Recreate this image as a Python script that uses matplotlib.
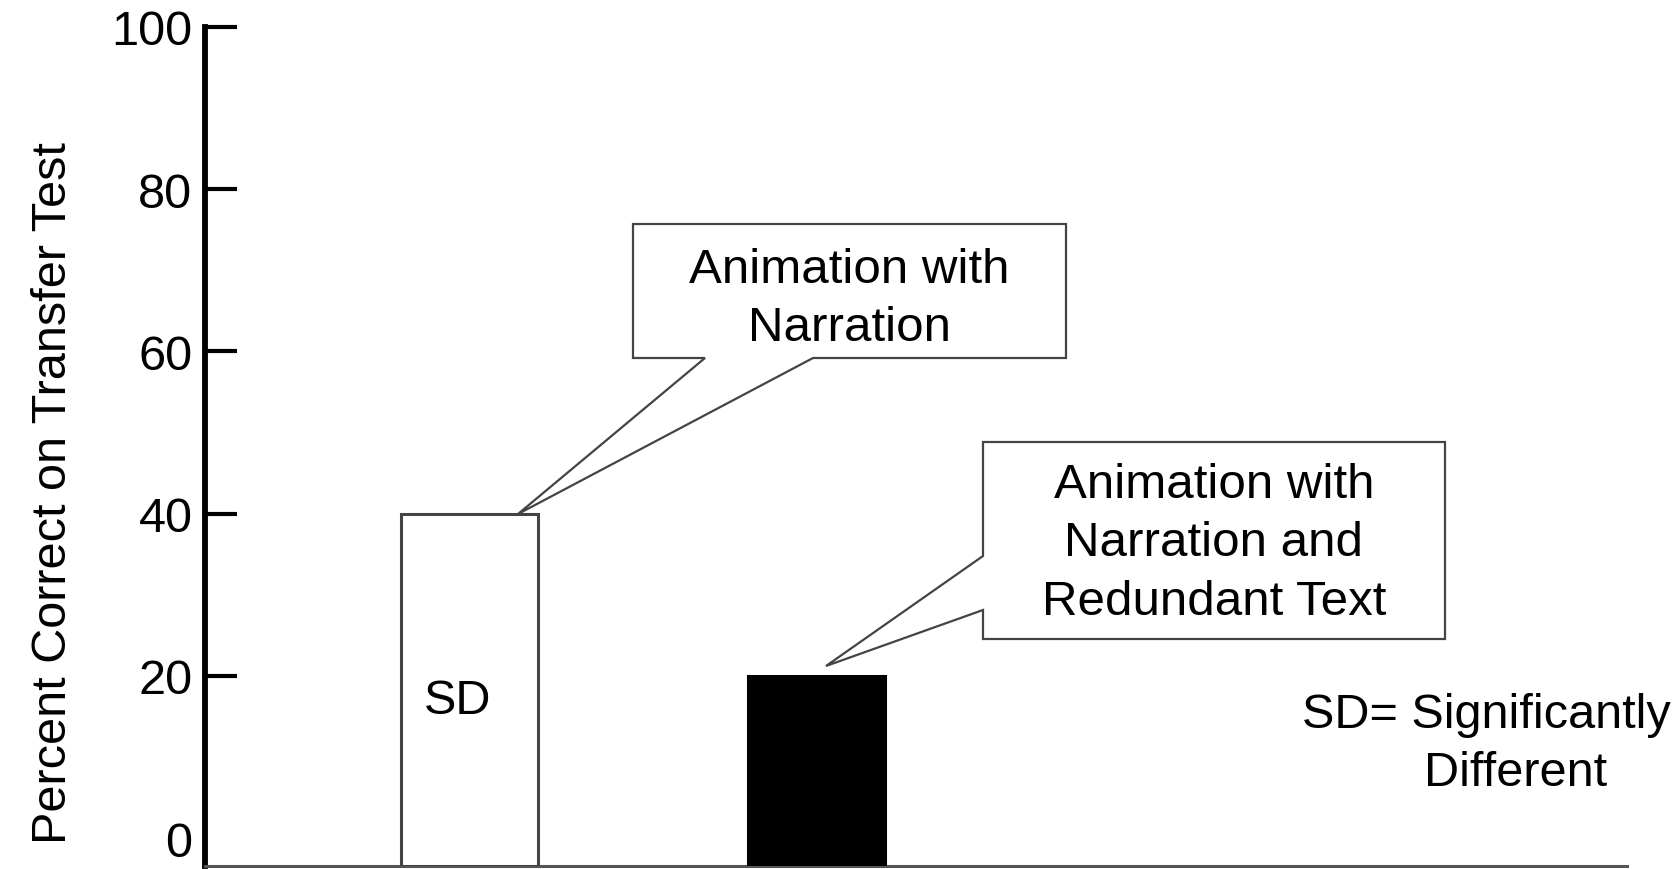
import matplotlib
matplotlib.use("Agg")
import matplotlib.pyplot as plt
from matplotlib.patches import Polygon

plt.rcParams['font.family'] = ['Liberation Sans', 'DejaVu Sans']

# ---- data ----
conditions = ["Animation with\nNarration", "Animation with\nNarration and\nRedundant Text"]
scores = [40, 20]
bar_colors = ["white", "black"]
edge_colors = ["#444444", "black"]
y_ticks = [0, 20, 40, 60, 80, 100]
y_label = "Percent Correct on Transfer Test"
sd_mark = "SD"
sd_note_1 = "SD= Significantly"
sd_note_2 = "Different"

W, H = 1681, 870
fig = plt.figure(figsize=(W / 100, H / 100), dpi=100)

# axes placement (pixels -> fractions)
ax_left, ax_right, ax_top, ax_bottom = 205, 1627, 28, 867
ax = fig.add_axes([ax_left / W, 1 - ax_bottom / H,
                   (ax_right - ax_left) / W, (ax_bottom - ax_top) / H])

Y_MIN, Y_MAX = -3.45, 100
ax.set_ylim(Y_MIN, Y_MAX)
ax.set_xlim(-0.761, 3.337)

xs = list(range(len(scores)))
ax.bar(xs, [s - Y_MIN for s in scores], bottom=Y_MIN, width=0.395,
       color=bar_colors, edgecolor=edge_colors, linewidth=2.2, zorder=3)

# spines / ticks
for s in ("top", "right"):
    ax.spines[s].set_visible(False)
ax.spines["left"].set_linewidth(4.2)
ax.spines["left"].set_color("black")
ax.spines["left"].set_bounds(Y_MIN, Y_MAX)
ax.spines["bottom"].set_linewidth(2.2)
ax.spines["bottom"].set_color("#555555")
ax.set_xticks([])
ax.set_yticks(y_ticks)
ax.set_yticklabels([str(t) for t in y_ticks])
ax.tick_params(axis="y", direction="in", length=23, width=3, pad=9,
               labelsize=35, color="black")
# hide the 0 tick mark (covered by x axis in reference)
ax.yaxis.get_major_ticks()[0].tick1line.set_visible(False)

# y label
fig.text(54 / W, 1 - 493 / H, y_label, rotation=90, ha="center", va="center",
         fontsize=35)

def fxy(px, py):
    return (px / W, 1 - py / H)

# callout 1
poly1 = [fxy(633, 225), fxy(1066, 225), fxy(1066, 359), fxy(813, 359),
         fxy(518, 515), fxy(705, 359), fxy(633, 359)]
fig.patches.append(Polygon(poly1, closed=True, facecolor="white",
                           edgecolor="#444444", linewidth=1.6,
                           transform=fig.transFigure, figure=fig, zorder=5))
fig.text(849.5 / W, 1 - 299.5 / H, conditions[0], ha="center", va="center",
         fontsize=35.5, linespacing=1.38, zorder=6)

# callout 2
poly2 = [fxy(983, 443), fxy(1445, 443), fxy(1445, 640), fxy(983, 640),
         fxy(983, 611), fxy(826, 667), fxy(983, 557)]
fig.patches.append(Polygon(poly2, closed=True, facecolor="white",
                           edgecolor="#444444", linewidth=1.6,
                           transform=fig.transFigure, figure=fig, zorder=5))
fig.text(1214 / W, 1 - 544 / H, conditions[1], ha="center", va="center",
         fontsize=35.5, linespacing=1.38, zorder=6)

# SD inside first bar
fig.text(458 / W, 1 - 702 / H, sd_mark, ha="center", va="center", fontsize=35)

# note
fig.text(1486 / W, 1 - 715 / H, sd_note_1, ha="center", va="center", fontsize=35)
fig.text(1516 / W, 1 - 774 / H, sd_note_2, ha="center", va="center", fontsize=35)

fig.savefig("out.png", dpi=100)
